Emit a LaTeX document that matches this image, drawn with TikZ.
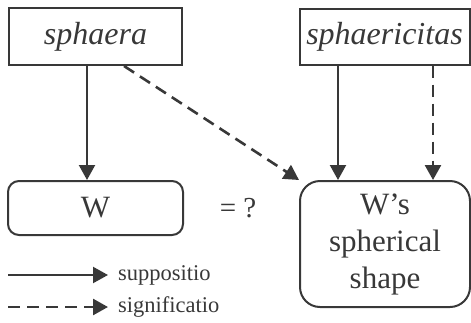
\documentclass[tikz,border=0pt]{standalone}
\usepackage{fontspec}
\setmainfont{Liberation Serif}
\usetikzlibrary{arrows.meta}
\definecolor{ink}{HTML}{383838}
\tikzset{
  termbox/.style={draw=ink, line width=2pt, inner sep=0pt, text=ink,
    font=\fontsize{32}{36}\selectfont\itshape},
  thingbox/.style={draw=ink, line width=2pt, inner sep=0pt, text=ink,
    align=center, font=\fontsize{31}{37}\selectfont},
  tip/.style={-{Triangle[width=16pt,length=15pt]}},
  supp/.style={tip, draw=ink, line width=2.2pt},
  sign/.style={tip, draw=ink, line width=2.6pt, dash pattern=on 12pt off 7pt},
  legtext/.style={text=ink, anchor=west, inner sep=0pt, font=\fontsize{22.5}{26}\selectfont}
}
\begin{document}
\begin{tikzpicture}[x=1pt,y=-1pt]
  \useasboundingbox (0,0) rectangle (471,322);

  % terms
  \node[termbox, minimum width=173pt, minimum height=57pt] (sph) at (95.5,36.5) {sphaera};
  \node[termbox, minimum width=170pt, minimum height=56pt] (sphc) at (384.5,36.5) {sphaericitas};

  % things
  \node[thingbox, rounded corners=11pt, minimum width=175pt, minimum height=54pt] (w) at (95.5,208) {W};
  \node[thingbox, rounded corners=20pt, minimum width=170pt, minimum height=126pt] (shape) at (385,244)
    {W’s\\spherical\\shape};

  \node[text=ink, font=\fontsize{29}{33}\selectfont] (eq) at (238,208) {= ?};

  % columns for the vertical arrows
  \coordinate (xa) at (87,0);
  \coordinate (xb) at (124,0);
  \coordinate (xc) at (338,0);
  \coordinate (xd) at (433,0);

  \draw[supp] (sph.south -| xa) -- (w.north -| xa);
  \draw[sign] (sph.south -| xb) -- (shape.north west);
  \draw[supp] (sphc.south -| xc) -- (shape.north -| xc);
  \draw[sign] (sphc.south -| xd) -- (shape.north -| xd);

  % legend
  \coordinate (l1a) at (8,275);
  \coordinate (l1b) at (108,275);
  \coordinate (l2a) at (8,307);
  \coordinate (l2b) at (108,307);
  \draw[supp] (l1a) -- (l1b);
  \draw[sign] (l2a) -- (l2b);
  \node[legtext] (lsup) at (118,275) {suppositio};
  \node[legtext] (lsig) at (118,307) {significatio};
\end{tikzpicture}
\end{document}
